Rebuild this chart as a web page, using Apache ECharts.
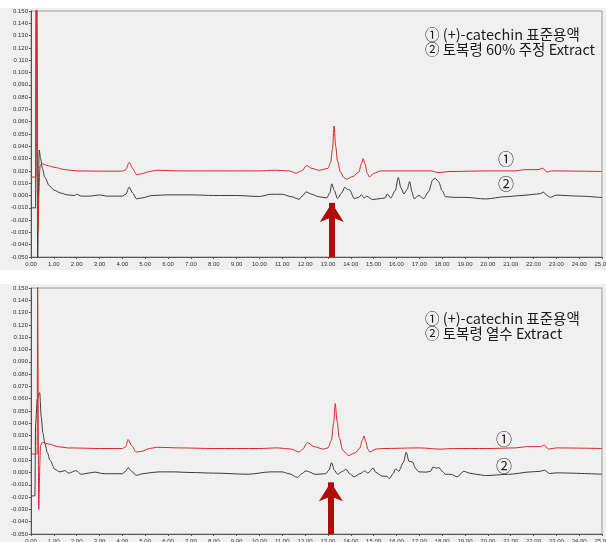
<!DOCTYPE html>
<html>
<head>
<meta charset="utf-8">
<script src="https://cdn.jsdelivr.net/npm/echarts@6/dist/echarts.min.js"></script>
<style>
html,body{margin:0;padding:0;background:#fff;}
#c{width:606px;height:542px;}
</style>
</head>
<body>
<div id="c"></div>
<script>
// ---- data (time in min, absorbance in AU) ----
var legendTop = ['① (+)-catechin 표준용액', '② 토복령 60% 주정 Extract'];
var legendBottom = ['① (+)-catechin 표준용액', '② 토복령 열수 Extract'];
var traceTags = ['①', '②'];

var topStd = [[0,0.015],[0.22,0.015],[0.24,0.16],[0.27,0.16],[0.30,-0.029],[0.32,-0.029],[0.40,0.024],[0.46,0.026],[0.7,0.0245],[1.0,0.023],[1.5,0.021],[2.0,0.020],[3.0,0.0198],[4.0,0.0198],[4.15,0.021],[4.3,0.027],[4.45,0.022],[4.62,0.017],[4.8,0.0175],[5.2,0.0195],[5.5,0.0205],[6.5,0.020],[8,0.020],[10,0.020],[10.7,0.0205],[11.3,0.020],[11.6,0.0182],[11.85,0.020],[12.07,0.0243],[12.3,0.022],[12.6,0.0205],[13.0,0.022],[13.12,0.027],[13.2,0.038],[13.27,0.0565],[13.34,0.040],[13.42,0.028],[13.55,0.019],[13.7,0.0145],[13.8,0.0133],[14.1,0.0155],[14.35,0.019],[14.47,0.026],[14.54,0.030],[14.62,0.026],[14.72,0.018],[14.82,0.015],[15.0,0.018],[15.3,0.020],[16,0.020],[17.5,0.020],[17.86,0.0186],[18.3,0.0195],[20,0.020],[21.2,0.020],[21.6,0.021],[22.2,0.021],[22.4,0.0222],[22.6,0.019],[22.8,0.020],[25,0.0195]];

var topExt = [[0,-0.010],[0.2,-0.010],[0.22,0.16],[0.26,0.16],[0.29,-0.06],[0.32,-0.06],[0.36,0.037],[0.42,0.030],[0.5,0.022],[0.6,0.015],[0.8,0.008],[1.0,0.0045],[1.3,0.002],[1.6,0.0005],[1.9,0.0],[2.0,0.001],[2.2,-0.0005],[2.6,-0.0005],[3.0,0.0005],[3.3,-0.0005],[4.0,-0.0005],[4.15,0.001],[4.3,0.0068],[4.45,0.002],[4.62,-0.0027],[4.85,-0.002],[5.3,0.0],[6,0.0005],[7,0.0005],[8,0.0],[9,0.0],[10,-0.0008],[10.5,0.001],[11,0.001],[11.4,-0.001],[11.74,-0.003],[11.9,0.0],[12.04,0.0029],[12.3,0.001],[12.6,-0.001],[12.95,-0.002],[13.08,0.002],[13.17,0.0095],[13.28,0.004],[13.42,-0.0025],[13.6,0.002],[13.74,0.0067],[13.85,0.005],[13.95,0.0045],[14.15,-0.0025],[14.35,-0.0015],[14.47,0.0006],[14.58,-0.002],[14.7,-0.0006],[14.95,-0.0033],[15.3,-0.0025],[15.5,-0.002],[15.6,0.0012],[15.75,-0.002],[15.95,0.004],[16.08,0.0146],[16.2,0.006],[16.33,0.0012],[16.47,0.005],[16.58,0.0113],[16.68,0.003],[16.77,-0.0025],[16.99,0.0],[17.2,-0.0025],[17.4,0.003],[17.6,0.013],[17.7,0.014],[17.85,0.011],[18.0,0.004],[18.15,-0.001],[18.5,-0.0015],[19,-0.0015],[19.9,-0.0028],[20.77,-0.001],[21.5,0.0],[21.93,0.0008],[22.3,0.0015],[22.44,0.0027],[22.6,0.0],[22.74,-0.0015],[23.0,0.0003],[24,-0.0005],[25,-0.0017]];

var botStd = [[0,0.015],[0.27,0.015],[0.29,0.16],[0.32,0.16],[0.34,-0.030],[0.36,-0.030],[0.42,0.022],[0.5,0.0245],[0.8,0.023],[1.2,0.021],[1.6,0.020],[3,0.0195],[4.0,0.0195],[4.15,0.021],[4.25,0.0268],[4.4,0.022],[4.6,0.0167],[4.8,0.017],[5.2,0.0195],[5.5,0.0205],[6.5,0.020],[8,0.0195],[10,0.0195],[10.8,0.020],[11.4,0.019],[11.74,0.0167],[11.9,0.019],[12.1,0.0243],[12.4,0.021],[12.8,0.019],[13.0,0.020],[13.15,0.026],[13.25,0.040],[13.32,0.056],[13.4,0.042],[13.5,0.028],[13.65,0.018],[13.9,0.0138],[14.2,0.016],[14.4,0.020],[14.5,0.026],[14.58,0.0297],[14.66,0.025],[14.75,0.019],[14.83,0.0167],[15.1,0.019],[15.4,0.0195],[17,0.020],[17.93,0.019],[18.5,0.0195],[20,0.0195],[21.2,0.020],[21.7,0.021],[22.3,0.021],[22.48,0.0223],[22.65,0.019],[23,0.020],[25,0.0195]];

var botExt = [[0,-0.019],[0.17,-0.019],[0.2,0.04],[0.28,0.060],[0.38,0.065],[0.45,0.045],[0.52,0.032],[0.61,0.0235],[0.72,0.016],[0.83,0.010],[1.05,0.0025],[1.27,0.0005],[1.48,0.0015],[1.65,-0.0005],[1.97,0.0015],[2.2,-0.0015],[2.5,-0.0005],[2.79,0.0003],[3.2,-0.001],[4.0,-0.001],[4.15,0.001],[4.25,0.004],[4.4,0.001],[4.61,-0.0023],[4.9,-0.001],[5.3,0.0],[5.6,0.0005],[6.2,0.0005],[7,0.0],[8,-0.0005],[9.5,-0.0014],[10.5,0.0005],[11,0.0005],[11.3,-0.001],[11.67,-0.004],[11.85,-0.001],[12.04,0.0013],[12.47,-0.0015],[12.9,-0.001],[13.05,0.002],[13.16,0.008],[13.28,0.002],[13.42,-0.0014],[13.65,0.001],[13.79,0.0027],[13.95,-0.001],[14.15,-0.0035],[14.4,-0.001],[14.61,0.0013],[14.75,-0.0005],[14.98,0.0037],[15.1,0.0],[15.38,-0.003],[15.55,-0.003],[15.7,-0.0048],[15.85,-0.001],[15.97,0.003],[16.1,0.001],[16.3,0.008],[16.43,0.0165],[16.55,0.009],[16.7,0.0086],[16.85,0.003],[16.99,0.0005],[17.3,0.0003],[17.5,0.001],[17.6,0.0045],[17.75,0.0035],[17.86,0.004],[18.0,0.001],[18.15,-0.0014],[18.4,-0.0015],[18.66,-0.0035],[18.95,0.001],[19.2,-0.0005],[19.5,-0.0015],[19.9,-0.0025],[20.9,-0.0015],[21.9,0.0005],[22.3,0.001],[22.48,0.0019],[22.7,-0.0008],[23,-0.0003],[25,-0.0014]];

// arrow marking the catechin peak: [time, tipValue, baseValue]
var arrowTop = [13.17, -0.006, -0.050];
var arrowBot = [13.13, -0.008, -0.050];

// ---- chart ----
var chart = echarts.init(document.getElementById('c'), null, {renderer:'canvas'});
var FONT = 'Liberation Sans, Arial, sans-serif';
var KFONT = 'Noto Sans CJK KR';
var RED = '#d42a2a', BLACK = '#3a3a3a', ARROW = '#b00c0c';

function xAxisOf(i){
  return {
    type:'value', gridIndex:i, min:0, max:25, interval:1,
    axisLine:{show:true, onZero:false, lineStyle:{color:'#555', width:1}},
    axisTick:{show:true, length:2, lineStyle:{color:'#555'}},
    minorTick:{show:true, splitNumber:5, length:1, lineStyle:{color:'#666'}},
    splitLine:{show:false},
    axisLabel:{fontSize:6, color:'#333', margin:4, fontFamily:FONT, showMaxLabel:true, hideOverlap:false,
      formatter:function(v){return v.toFixed(2);}}
  };
}
function yAxisOf(i){
  return {
    type:'value', gridIndex:i, min:-0.05, max:0.15, interval:0.01,
    name:'AU', nameLocation:'middle', nameRotate:90, nameGap:24,
    nameTextStyle:{fontSize:6, color:'#333', fontFamily:FONT},
    axisLine:{show:true, onZero:false, lineStyle:{color:'#555', width:1}},
    axisTick:{show:true, length:2, lineStyle:{color:'#555'}},
    splitLine:{show:false},
    axisLabel:{fontSize:6, color:'#333', margin:3, fontFamily:FONT, showMinLabel:true, showMaxLabel:true,
      formatter:function(v){return v.toFixed(3);}}
  };
}
function arrowMark(a){
  return {
    silent:true, symbol:['none','arrow'], symbolSize:[18,19],
    label:{show:false}, animation:false,
    lineStyle:{color:ARROW, width:6, type:'solid'},
    data:[[{coord:[a[0],a[2]]},{coord:[a[0],a[1]]}]]
  };
}
function lineSeries(data, color, xi, mark){
  var s = {type:'line', xAxisIndex:xi, yAxisIndex:xi, data:data, showSymbol:false,
    smooth:0.3, smoothMonotone:'x', animation:false,
    lineStyle:{color:color, width:1}, itemStyle:{color:color}};
  if (mark) s.markLine = mark;
  return s;
}
function textEl(x, y, t, size){
  return {type:'text', x:x, y:y, z:100, style:{text:t, fill:'#1a1a1a', font:size+'px "'+KFONT+'"', textVerticalAlign:'middle', textAlign:'left'}};
}
function tagEl(x, y, t){
  return {type:'text', x:x, y:y, z:100, style:{text:t, fill:'#222', font:'16px "'+KFONT+'"', textVerticalAlign:'middle', textAlign:'center'}};
}

var option = {
  backgroundColor:'#ffffff',
  animation:false,
  grid:[
    {left:31, top:11, width:571, height:246, show:true, borderColor:'#9a9a9a', borderWidth:1, backgroundColor:'transparent', containLabel:false, outerBoundsMode:'none'},
    {left:31, top:288, width:571, height:246, show:true, borderColor:'#9a9a9a', borderWidth:1, backgroundColor:'transparent', containLabel:false, outerBoundsMode:'none'}
  ],
  xAxis:[xAxisOf(0), xAxisOf(1)],
  yAxis:[yAxisOf(0), yAxisOf(1)],
  series:[
    lineSeries(topExt, BLACK, 0, arrowMark(arrowTop)),
    lineSeries(topStd, RED, 0),
    lineSeries(botExt, BLACK, 1, arrowMark(arrowBot)),
    lineSeries(botStd, RED, 1)
  ],
  graphic:[
    {type:'rect', z:-100, shape:{x:0, y:8, width:606, height:262}, style:{fill:'#f0f0f0'}},
    {type:'rect', z:-100, shape:{x:0, y:284, width:606, height:258}, style:{fill:'#f0f0f0'}},
    textEl(425, 34, legendTop[0], 14.5),
    textEl(425, 49, legendTop[1], 14.5),
    textEl(425, 318, legendBottom[0], 14.5),
    textEl(425, 333, legendBottom[1], 14.5),
    tagEl(506, 159, traceTags[0]),
    tagEl(506, 184, traceTags[1]),
    tagEl(504, 439, traceTags[0]),
    tagEl(504, 466, traceTags[1])
  ]
};
chart.setOption(option);
</script>
</body>
</html>
